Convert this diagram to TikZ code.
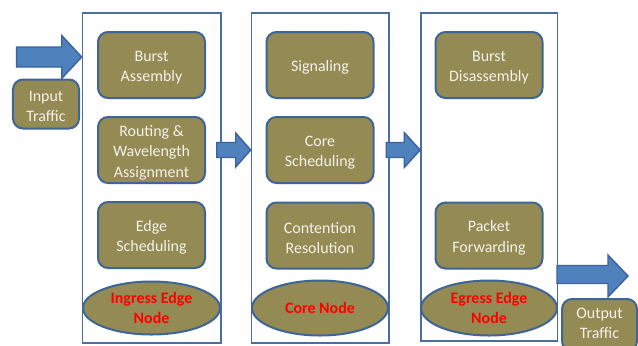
\documentclass[tikz,border=0pt]{standalone}
\usepackage{fontspec}
\setmainfont{Carlito}
\usetikzlibrary{shapes.geometric}
\definecolor{olivefill}{HTML}{948A54}
\definecolor{boxedge}{HTML}{3F6497}
\definecolor{paneledge}{HTML}{4A6DA2}
\definecolor{arrowfill}{HTML}{4F81BD}
\definecolor{arrowedge}{HTML}{3A62A0}
\definecolor{cream}{HTML}{F4F2EA}
\tikzset{
  panel/.style={draw=paneledge, line width=1.6bp, inner sep=0pt},
  steptext/.style={align=center, text=cream, inner sep=0pt, yshift=-2.5bp,
    font=\fontsize{16}{20.5}\selectfont},
  % rounded olive box; its caption is set as a centred label, slightly lowered
  boxshape/.style={rounded corners=10bp, fill=olivefill, draw=boxedge, line width=2bp,
    minimum width=107bp, minimum height=66bp, inner sep=0pt},
  stepbox/.style={boxshape, label={[steptext]center:{#1}}},
  trafficbox/.style={stepbox={#1}, minimum width=66bp, minimum height=49bp},
  nodeoval/.style={ellipse, fill=olivefill, draw=boxedge, line width=2bp, inner sep=0pt,
    text=red, align=center, font=\fontsize{16}{20.5}\selectfont\bfseries},
  blockarrow/.style={fill=arrowfill, draw=arrowedge, line width=1.4bp, line join=miter}
}
\begin{document}
\begin{tikzpicture}[x=1bp, y=-1bp]
  \clip (0,0) rectangle (638,345);
  \fill[white] (0,0) rectangle (638,345);

  % the three node panels
  \node[panel, minimum width=138.5bp, minimum height=330bp] (p1) at (151.75,178) {};
  \node[panel, minimum width=137.5bp, minimum height=330bp] (p2) at (320.25,178) {};
  \node[panel, minimum width=136.5bp, minimum height=328bp] (p3) at (489.25,177) {};

  % ingress edge node
  \node[stepbox={Burst\\Assembly}] (ba) at (151.5,65) {};
  \node[stepbox={Routing \&\\Wavelength\\Assignment}] (rw) at (151.5,150) {};
  \node[stepbox={Edge\\Scheduling}] (es) at (151.5,235) {};
  \node[nodeoval, minimum width=137bp, minimum height=53bp] (ing) at (151.5,308) {Ingress Edge\\Node};

  % core node
  \node[stepbox={Signaling}] (sg) at (320,65) {};
  \node[stepbox={Core\\Scheduling}] (cs) at (320,150) {};
  \node[stepbox={Contention\\Resolution}] (cr) at (320,235.5) {};
  \node[nodeoval, minimum width=136bp, minimum height=55bp] (core) at (320,308) {Core Node};

  % egress edge node
  \node[stepbox={Burst\\Disassembly}] (bd) at (489,65) {};
  \node[stepbox={Packet\\Forwarding}] (pf) at (489,235.5) {};
  \node[nodeoval, minimum width=136bp, minimum height=55bp] (egr) at (489,308) {Egress Edge\\Node};

  % traffic labels
  \node[trafficbox={Input\\Traffic}] (in) at (46,104) {};
  \node[boxshape, minimum width=75bp, minimum height=52bp,
        label={[steptext, yshift=4bp]center:{Output\\Traffic}}] (out) at (599.5,325) {};

  % tips of the block arrows
  \coordinate (tipin) at (p1.west |- 0,57);
  \coordinate (tip12) at (p2.west |- 0,150);
  \coordinate (tip23) at (p3.west |- 0,150);
  \coordinate (tipout) at (628,276);

  % block arrows
  \draw[blockarrow, shift={(tipin)}]
    (0,0) -- (-20,-21.5) -- (-20,-10) -- (-65,-10) -- (-65,10) -- (-20,10) -- (-20,21.5) -- cycle;
  \draw[blockarrow, shift={(tip12)}]
    (0,0) -- (-15,-17) -- (-15,-7.5) -- (-34,-7.5) -- (-34,7.5) -- (-15,7.5) -- (-15,17) -- cycle;
  \draw[blockarrow, shift={(tip23)}]
    (0,0) -- (-16,-17.5) -- (-16,-7.5) -- (-34,-7.5) -- (-34,7.5) -- (-16,7.5) -- (-16,17.5) -- cycle;
  \draw[blockarrow, shift={(tipout)}]
    (0,0) -- (-20,-21) -- (-20,-10.5) -- (-71,-10.5) -- (-71,7.5) -- (-20,7.5) -- (-20,21) -- cycle;
\end{tikzpicture}
\end{document}
